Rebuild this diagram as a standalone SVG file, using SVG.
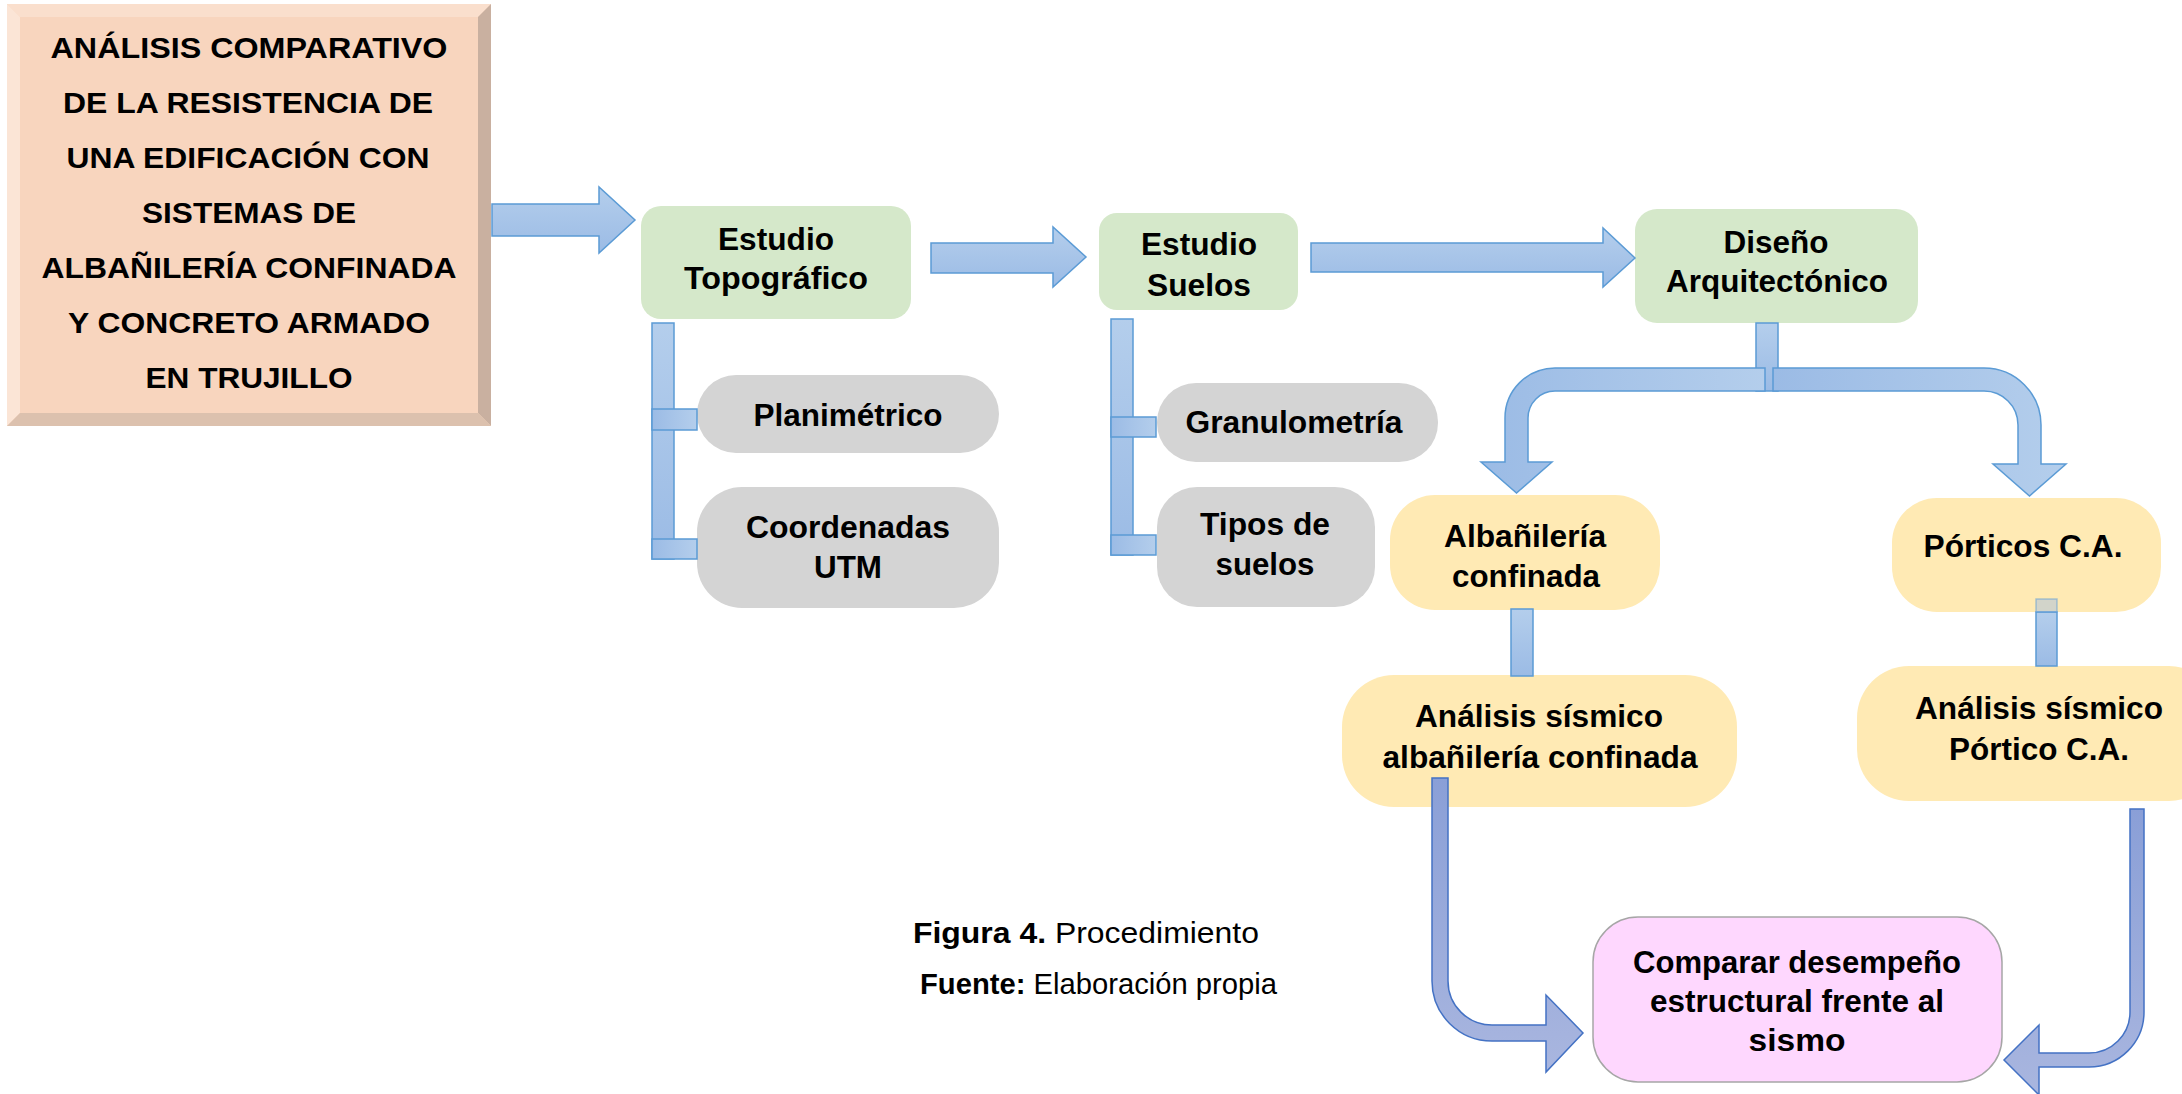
<svg xmlns="http://www.w3.org/2000/svg" width="2182" height="1094" viewBox="0 0 2182 1094">
  <defs>
    <linearGradient id="gv" x1="0" y1="0" x2="0" y2="1">
      <stop offset="0" stop-color="#b4ceec"/>
      <stop offset="1" stop-color="#9bbbe5"/>
    </linearGradient>
    <linearGradient id="gh" x1="0" y1="0" x2="1" y2="0">
      <stop offset="0" stop-color="#9bbbe5"/>
      <stop offset="1" stop-color="#b4ceec"/>
    </linearGradient>
    <linearGradient id="gd" x1="0" y1="0" x2="0" y2="1">
      <stop offset="0" stop-color="#8a9fd7"/>
      <stop offset="1" stop-color="#a9b6df"/>
    </linearGradient>
    <style>
      .t{font-family:"Liberation Sans",Arial,sans-serif;font-weight:bold;font-size:31px;fill:#000;text-anchor:middle}
      .tt{font-size:30px}
      .cap{font-family:"Liberation Sans",Arial,sans-serif;font-size:29px;fill:#000}
      .b{font-weight:bold}
      .bl{fill:url(#gv);stroke:#5b9bd5;stroke-width:1.5}
      .blh{fill:url(#gh);stroke:#5b9bd5;stroke-width:1.5}
      .dk{fill:url(#gd);stroke:#4472c4;stroke-width:1.5}
      .green{fill:#d5e8ca}
      .gray{fill:#d4d4d4}
      .yel{fill:#ffeab4}
      .pink{fill:#fed7fe;stroke:#a6a6a6;stroke-width:1.5}
    </style>
  </defs>
  <rect width="2182" height="1094" fill="#fff"/>

  <!-- Title block with bevelled edge -->
  <g id="titulo">
    <rect x="7" y="4" width="484" height="422" fill="#f8d5be"/>
    <polygon points="7,4 491,4 478,17 20,17" fill="#fadfcd"/>
    <polygon points="7,4 20,17 20,413 7,426" fill="#fbe5d6"/>
    <polygon points="491,4 491,426 478,413 478,17" fill="#c9b0a0"/>
    <polygon points="7,426 20,413 478,413 491,426" fill="#dcc1ae"/>
    <text class="t tt" x="249" y="58" textLength="397" lengthAdjust="spacingAndGlyphs">ANÁLISIS COMPARATIVO</text>
    <text class="t tt" x="248" y="113" textLength="370" lengthAdjust="spacingAndGlyphs">DE LA RESISTENCIA DE</text>
    <text class="t tt" x="248" y="168" textLength="363" lengthAdjust="spacingAndGlyphs">UNA EDIFICACIÓN CON</text>
    <text class="t tt" x="249" y="223" textLength="214" lengthAdjust="spacingAndGlyphs">SISTEMAS DE</text>
    <text class="t tt" x="249" y="278" textLength="415" lengthAdjust="spacingAndGlyphs">ALBAÑILERÍA CONFINADA</text>
    <text class="t tt" x="249" y="333" textLength="362" lengthAdjust="spacingAndGlyphs">Y CONCRETO ARMADO</text>
    <text class="t tt" x="249" y="388" textLength="207" lengthAdjust="spacingAndGlyphs">EN TRUJILLO</text>
  </g>

  <g id="topografico">
    <rect class="green" x="641" y="206" width="270" height="113" rx="20"/>
    <text class="t" x="776" y="250" textLength="116" lengthAdjust="spacingAndGlyphs">Estudio</text>
    <text class="t" x="776" y="289" textLength="184" lengthAdjust="spacingAndGlyphs">Topográfico</text>
  </g>

  <g id="planimetrico">
    <rect class="gray" x="697" y="375" width="302" height="78" rx="39"/>
    <text class="t" x="848" y="426" textLength="189" lengthAdjust="spacingAndGlyphs">Planimétrico</text>
  </g>

  <g id="coordenadas">
    <rect class="gray" x="697" y="487" width="302" height="121" rx="45"/>
    <text class="t" x="848" y="538" textLength="204" lengthAdjust="spacingAndGlyphs">Coordenadas</text>
    <text class="t" x="848" y="578" textLength="68" lengthAdjust="spacingAndGlyphs">UTM</text>
  </g>

  <g id="suelos">
    <rect class="green" x="1099" y="213" width="199" height="97" rx="18"/>
    <text class="t" x="1199" y="255" textLength="116" lengthAdjust="spacingAndGlyphs">Estudio</text>
    <text class="t" x="1199" y="296" textLength="104" lengthAdjust="spacingAndGlyphs">Suelos</text>
  </g>

  <g id="granulometria">
    <rect class="gray" x="1157" y="383" width="281" height="79" rx="39"/>
    <text class="t" x="1294" y="433" textLength="217" lengthAdjust="spacingAndGlyphs">Granulometría</text>
  </g>

  <g id="tipos-suelos">
    <rect class="gray" x="1157" y="487" width="218" height="120" rx="40"/>
    <text class="t" x="1265" y="535" textLength="130" lengthAdjust="spacingAndGlyphs">Tipos de</text>
    <text class="t" x="1265" y="575" textLength="99" lengthAdjust="spacingAndGlyphs">suelos</text>
  </g>

  <g id="diseno">
    <rect class="green" x="1635" y="209" width="283" height="114" rx="22"/>
    <text class="t" x="1776" y="253" textLength="105" lengthAdjust="spacingAndGlyphs">Diseño</text>
    <text class="t" x="1777" y="292" textLength="222" lengthAdjust="spacingAndGlyphs">Arquitectónico</text>
  </g>

  <g id="albanileria">
    <rect class="yel" x="1390" y="495" width="270" height="115" rx="45"/>
    <text class="t" x="1525" y="547" textLength="162" lengthAdjust="spacingAndGlyphs">Albañilería</text>
    <text class="t" x="1526" y="587" textLength="148" lengthAdjust="spacingAndGlyphs">confinada</text>
  </g>

  <g id="porticos">
    <rect class="yel" x="1892" y="498" width="269" height="114" rx="45"/>
    <text class="t" x="2023" y="557" textLength="199" lengthAdjust="spacingAndGlyphs">Pórticos C.A.</text>
  </g>

  <g id="analisis-albanileria">
    <rect class="yel" x="1342" y="675" width="395" height="132" rx="52"/>
    <text class="t" x="1539" y="727" textLength="248" lengthAdjust="spacingAndGlyphs">Análisis sísmico</text>
    <text class="t" x="1540" y="768" textLength="315" lengthAdjust="spacingAndGlyphs">albañilería confinada</text>
  </g>

  <g id="analisis-portico">
    <rect class="yel" x="1857" y="666" width="364" height="135" rx="52"/>
    <text class="t" x="2039" y="719" textLength="248" lengthAdjust="spacingAndGlyphs">Análisis sísmico</text>
    <text class="t" x="2039" y="760" textLength="180" lengthAdjust="spacingAndGlyphs">Pórtico C.A.</text>
  </g>

  <g id="comparar">
    <rect class="pink" x="1593" y="917" width="409" height="165" rx="45"/>
    <text class="t" x="1797" y="973" textLength="328" lengthAdjust="spacingAndGlyphs">Comparar desempeño</text>
    <text class="t" x="1797" y="1012" textLength="294" lengthAdjust="spacingAndGlyphs">estructural frente al</text>
    <text class="t" x="1797" y="1051" textLength="97" lengthAdjust="spacingAndGlyphs">sismo</text>
  </g>

  <!-- Connectors -->
  <g id="conectores">
    <!-- block arrows along the top row -->
    <polygon class="bl" points="492,204 599,204 599,187 635,220 599,253 599,236 492,236"/>
    <polygon class="bl" points="931,243 1053,243 1053,227 1086,257 1053,287 1053,273 931,273"/>
    <polygon class="bl" points="1311,243 1603,243 1603,228 1635,258 1603,287 1603,272 1311,272"/>

    <!-- bracket under Estudio Topográfico -->
    <rect class="bl" x="652" y="323" width="22" height="236"/>
    <rect class="blh" x="652" y="409" width="45" height="21"/>
    <rect class="blh" x="652" y="539" width="45" height="20"/>

    <!-- bracket under Estudio Suelos -->
    <rect class="bl" x="1111" y="319" width="22" height="236"/>
    <rect class="blh" x="1111" y="417" width="45" height="20"/>
    <rect class="blh" x="1111" y="535" width="45" height="20"/>

    <!-- split below Diseño Arquitectónico -->
    <rect class="bl" x="1756" y="323" width="22" height="68"/>
    <path class="blh" d="M1765 368 L1555 368 A50 50 0 0 0 1505 418 L1505 462 L1481 462 L1516.5 493 L1552 462 L1528 462 L1528 418 A27 27 0 0 1 1555 391 L1765 391 Z"/>
    <path class="blh" d="M1773 368 L1984 368 A57 57 0 0 1 2041 425 L2041 464 L2066 464 L2029.5 496 L1993 464 L2018 464 L2018 425 A34 34 0 0 0 1984 391 L1773 391 Z"/>

    <!-- links into the seismic analysis boxes -->
    <rect class="bl" x="1511" y="609" width="22" height="67"/>
    <rect class="bl" x="2036" y="612" width="21" height="54"/>
    <rect x="2036" y="599" width="21" height="13" fill="#9bbbe5" fill-opacity="0.45" stroke="#5b9bd5" stroke-opacity="0.5" stroke-width="1.5"/>

    <!-- bent arrows into the comparison box -->
    <path class="dk" d="M1432 778 L1448 778 L1448 981 A44 44 0 0 0 1492 1025 L1546 1025 L1546 995 L1583 1033 L1546 1072 L1546 1041 L1492 1041 A60 60 0 0 1 1432 981 Z"/>
    <path class="dk" d="M2130 809 L2144 809 L2144 1012 A55 55 0 0 1 2089 1067 L2039 1067 L2039 1095 L2004 1060 L2039 1025 L2039 1053 L2089 1053 A41 41 0 0 0 2130 1012 Z"/>
  </g>

  <!-- Caption -->
  <g id="leyenda">
    <text class="cap" x="913" y="943" textLength="346" lengthAdjust="spacingAndGlyphs"><tspan class="b">Figura 4.</tspan> Procedimiento</text>
    <text class="cap" x="920" y="994" textLength="357" lengthAdjust="spacingAndGlyphs"><tspan class="b">Fuente:</tspan> Elaboración propia</text>
  </g>
</svg>
